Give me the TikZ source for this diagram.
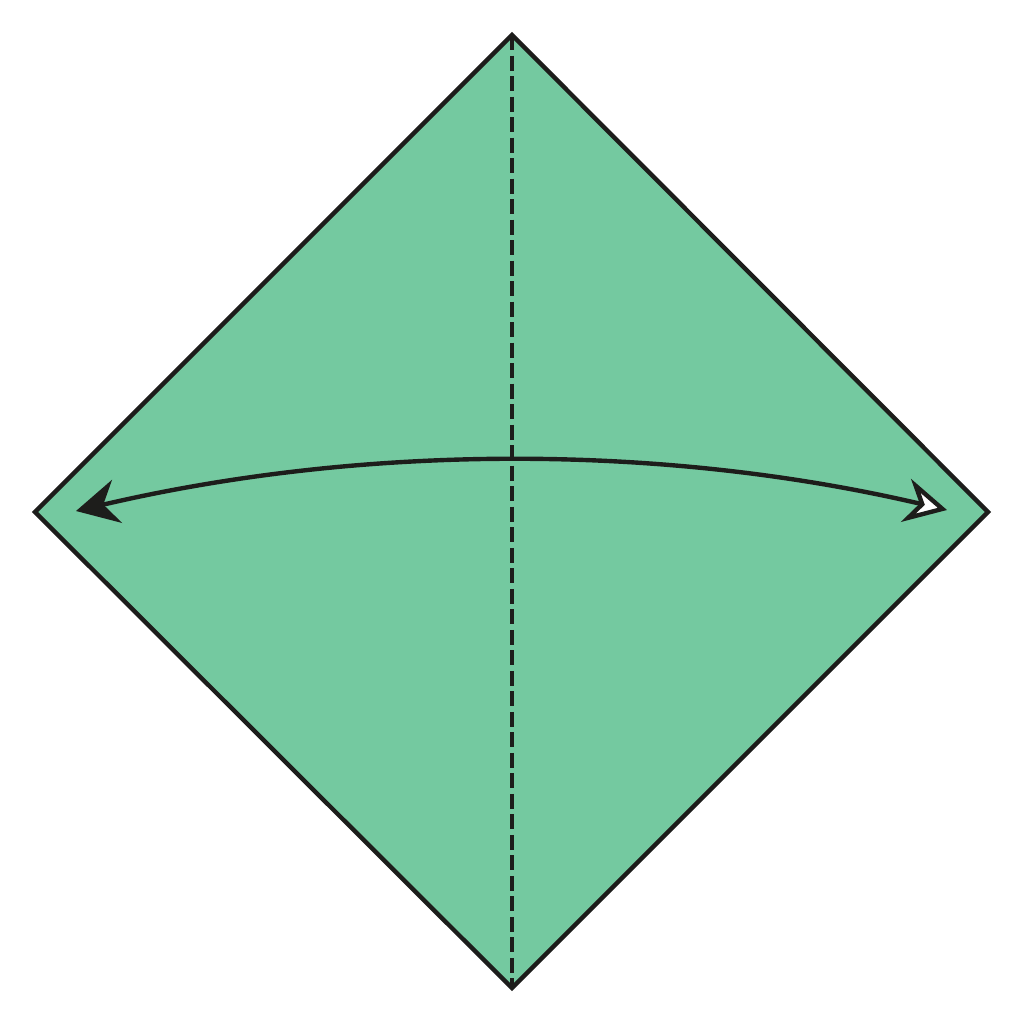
\documentclass[tikz,border=0pt]{standalone}
\usepackage{tikz}
\usetikzlibrary{arrows.meta}

\definecolor{paper}{HTML}{74C9A0}
\definecolor{ink}{HTML}{1D1D1B}

\begin{document}
\begin{tikzpicture}
            [x=0.01cm, y=-0.01cm, line width=1.25pt, draw=ink,
             crease/.style={line width=1.3pt, dash pattern=on 0.15cm off 0.055cm},
             foldarrow/.style={line width=1.25pt, {Stealth[length=0.42cm, width=0.44cm, inset=0.14cm, fill=ink]}-{Stealth[length=0.42cm, width=0.44cm, inset=0.14cm, fill=white]}}]
            \useasboundingbox (0, 0) rectangle (1024, 1024);
            \coordinate (top) at (512, 35);
            \coordinate (right) at (988, 512);
            \coordinate (bottom) at (512, 988);
            \coordinate (left) at (35, 512);
            \coordinate (tipleft) at (76, 511);
            \coordinate (tipright) at (947, 510);
            \coordinate (bendleft) at (362, 444);
            \coordinate (bendright) at (661, 443);

            \draw[fill=paper, draw=ink] (top) -- (right) -- (bottom) -- (left) -- cycle;
            \draw[crease, draw=ink] (top) -- (bottom);
            \draw[foldarrow, draw=ink] (tipleft) .. controls (bendleft) and (bendright) .. (tipright);
        \end{tikzpicture}
\end{document}
